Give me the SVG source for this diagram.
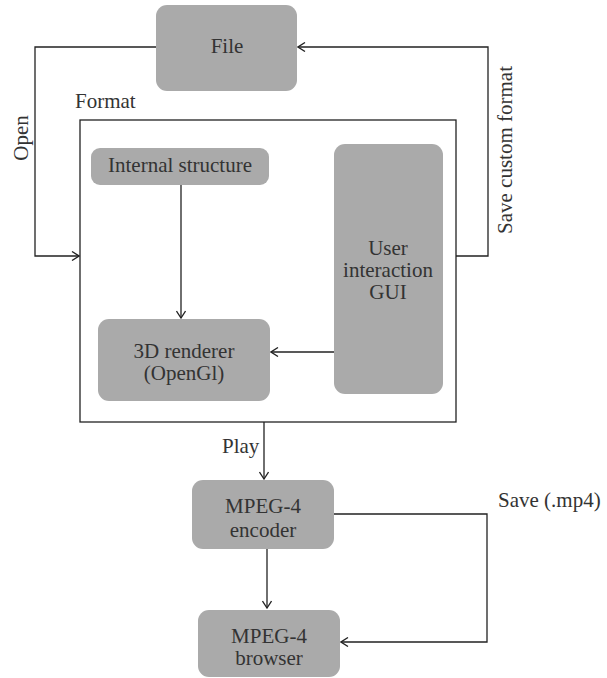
<svg xmlns="http://www.w3.org/2000/svg" width="607" height="678" viewBox="0 0 607 678">
<style>
.box{fill:#aaaaaa;stroke:none}
.t{font-family:"Liberation Serif",serif;font-size:21px;fill:#333333;text-anchor:middle}
.l{font-family:"Liberation Serif",serif;font-size:21px;fill:#333333}
.c{fill:none;stroke:#222222;stroke-width:1.3}
</style>
<defs>
<marker id="a" markerWidth="10" markerHeight="10" refX="9" refY="5" orient="auto" markerUnits="userSpaceOnUse">
<path d="M2,0.5 L9,5 L2,9.5" fill="none" stroke="#222222" stroke-width="1.3"/>
</marker>
</defs>
<rect width="607" height="678" fill="#ffffff"/>
<g id="format">
<rect x="80" y="120" width="376" height="302" fill="none" stroke="#222222" stroke-width="1.3"/>
<text class="l" x="75" y="108">Format</text>
</g>
<g id="file">
<rect class="box" x="156" y="5" width="141" height="86" rx="11"/>
<text class="t" x="227" y="53">File</text>
</g>
<g id="internal">
<rect class="box" x="91" y="148" width="178" height="37" rx="9"/>
<text class="t" x="180" y="172">Internal structure</text>
</g>
<g id="renderer">
<rect class="box" x="98" y="319" width="172" height="82" rx="11"/>
<text class="t" x="184" y="358">3D renderer</text>
<text class="t" x="184" y="380">(OpenGl)</text>
</g>
<g id="gui">
<rect class="box" x="334" y="144" width="109" height="250" rx="11"/>
<text class="t" x="388" y="255">User</text>
<text class="t" x="388" y="277">interaction</text>
<text class="t" x="388" y="299">GUI</text>
</g>
<g id="encoder">
<rect class="box" x="192" y="480" width="142" height="69" rx="11"/>
<text class="t" x="263" y="513">MPEG-4</text>
<text class="t" x="263" y="537">encoder</text>
</g>
<g id="browser">
<rect class="box" x="198" y="610" width="142" height="67" rx="11"/>
<text class="t" x="269" y="643">MPEG-4</text>
<text class="t" x="269" y="665">browser</text>
</g>
<g id="connectors">
<polyline class="c" points="156,47 35,47 35,256 79,256" marker-end="url(#a)"/>
<polyline class="c" points="456,256 488,256 488,47 298,47" marker-end="url(#a)"/>
<line class="c" x1="181" y1="185" x2="181" y2="318" marker-end="url(#a)"/>
<line class="c" x1="334" y1="352" x2="271" y2="352" marker-end="url(#a)"/>
<line class="c" x1="264" y1="422" x2="264" y2="479" marker-end="url(#a)"/>
<line class="c" x1="267" y1="549" x2="267" y2="608" marker-end="url(#a)"/>
<polyline class="c" points="334,514 487,514 487,642 341,642" marker-end="url(#a)"/>
<text class="l" x="0" y="0" text-anchor="middle" transform="translate(28,138) rotate(-90)">Open</text>
<text class="l" x="0" y="0" text-anchor="middle" transform="translate(512,150) rotate(-90)">Save custom format</text>
<text class="l" x="222" y="453">Play</text>
<text class="l" x="498" y="507">Save (.mp4)</text>
</g>
</svg>
